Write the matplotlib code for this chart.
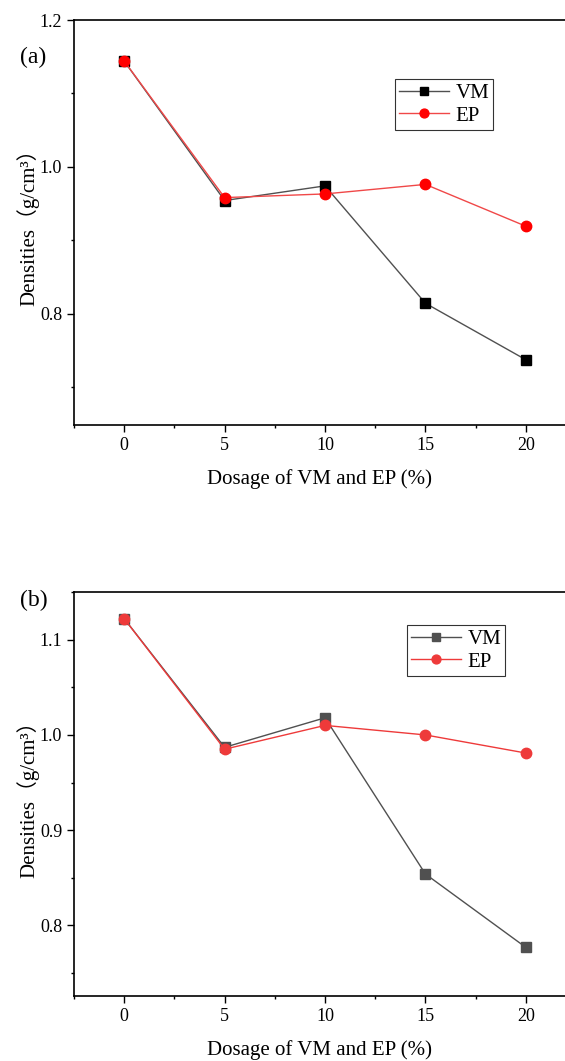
from matplotlib import pyplot as plt
from matplotlib.ticker import MultipleLocator

plt.rcParams['font.family'] = ['Liberation Serif', 'Noto Sans CJK SC', 'DejaVu Sans']

# 数据
dosage = [0, 5, 10, 15, 20]
vm_a = [1.144, 0.954, 0.974, 0.814, 0.737]
ep_a = [1.144, 0.958, 0.963, 0.976, 0.919]
vm_b = [1.122, 0.987, 1.018, 0.854, 0.777]
ep_b = [1.122, 0.985, 1.010, 1.000, 0.981]

panels = [
    # (标签, 标签y, VM, EP, ylim, 主刻度, 轴位置, VM颜色, EP颜色, 图例位置)
    ('(a)', 0.946, vm_a, ep_a, (0.648, 1.2), 0.2, [0.131, 0.5994, 0.869, 0.3817],
     ('#000000', '#505050'), ('#ff0000', '#f04848'), (0.654, 0.854)),
    ('(b)', 0.4345, vm_b, ep_b, (0.726, 1.15), 0.1, [0.131, 0.0613, 0.869, 0.3807],
     ('#505050', '#505050'), ('#ee3a3a', '#ee3a3a'), (0.678, 0.918)),
]

fig = plt.figure(figsize=(5.65, 10.61), dpi=100)

for tag, tag_y, vm, ep, ylim, major, pos, vmc, epc, legpos in panels:
    ax = fig.add_axes(pos)
    ax.plot(dosage, vm, '-', color=vmc[1], lw=1.0, marker='s', ms=6.5,
            mfc=vmc[0], mec=vmc[0], label='VM')
    ax.plot(dosage, ep, '-', color=epc[1], lw=1.0, marker='o', ms=7.5,
            mfc=epc[0], mec=epc[0], label='EP')
    ax.set_xlim(-2.5, 21.95)
    ax.set_ylim(*ylim)
    ax.xaxis.set_major_locator(MultipleLocator(5))
    ax.xaxis.set_minor_locator(MultipleLocator(2.5))
    ax.yaxis.set_major_locator(MultipleLocator(major))
    ax.yaxis.set_minor_locator(MultipleLocator(major / 2))
    ax.yaxis.set_major_formatter(plt.FormatStrFormatter('%.1f'))
    ax.spines['right'].set_visible(False)
    for s in ('left', 'bottom', 'top'):
        ax.spines[s].set_linewidth(1.2)
    ax.tick_params(which='both', direction='out', top=False, right=False,
                   labelsize=13, width=1.0)
    ax.tick_params(which='major', length=5)
    ax.tick_params(which='minor', length=2.5)
    ax.set_xlabel('Dosage of VM and EP (%)', fontsize=15, labelpad=11)
    ax.set_ylabel('Densities（g/cm³）', fontsize=15, labelpad=0)
    leg = ax.legend(loc='upper left', bbox_to_anchor=legpos, fontsize=15,
                    frameon=True, fancybox=False, edgecolor='black',
                    handlelength=2.4, borderpad=0.2, labelspacing=0.15,
                    handletextpad=0.3, borderaxespad=0, markerscale=0.85)
    leg.get_frame().set_linewidth(0.8)
    fig.text(20 / 565, tag_y, tag, fontsize=17, ha='left', va='center')

fig.savefig('out.png', dpi=100)
